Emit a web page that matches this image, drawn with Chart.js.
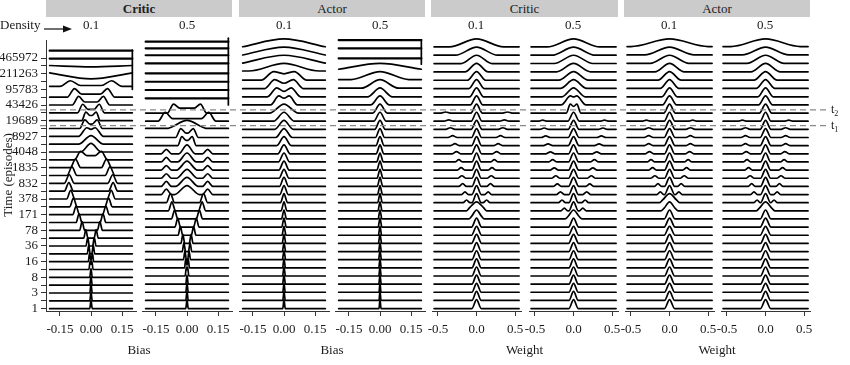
<!DOCTYPE html>
<html>
<head>
<meta charset="utf-8">
<script src="https://cdn.jsdelivr.net/npm/chart.js@4.4.1/dist/chart.umd.min.js"></script>
<style>
  body { margin: 0; background: #fff; }
  #wrap { position: relative; width: 850px; height: 365px; overflow: hidden;
          font-family: 'Liberation Serif', 'DejaVu Serif', serif; color: #1a1a1a; }
  #wrap canvas { position: absolute; }
  .strip { position: absolute; top: 0; height: 17px; background: #cbcbcb; text-align: center;
           font-size: 13px; line-height: 17px; color: #222; }
  .sub { position: absolute; top: 17px; width: 90px; text-align: center; font-size: 13px; line-height: 15px; }
  .xtitle { position: absolute; top: 342px; width: 120px; text-align: center; font-size: 13px; }
  .tlab { position: absolute; left: 831px; font-size: 12px; line-height: 12px; }
  .tlab sub { font-size: 8px; }
</style>
</head>
<body>
<div id="wrap"></div>
<script>
// y rows: one ridge per row, labels on every other row
const timeTicks = [1, 3, 8, 16, 36, 78, 171, 378, 832, 1835, 4048, 8927, 19689, 43426, 95783, 211263, 465972];
const biasTicks = [-0.15, 0, 0.15];
const weightTicks = [-0.5, 0, 0.5];
const groups = ['Critic', 'Actor', 'Critic', 'Actor'];
const densities = ['0.1', '0.5'];
const dashRows = { t1: 22.45, t2: 24.4 };

// row shapes, key points (x in data units, height 0..1 of the row max)
const P = (w, b = 0) => ({ pts: [[-w, b], [0, 1], [w, b]], b });
const T = (c, w, v = 0, b = 0) => (c - w > 0.0005
  ? { pts: [[-c - w, b], [-c, 1], [-c + w, v], [c - w, v], [c, 1], [c + w, b]], b }
  : { pts: [[-c - w, b], [-c, 1], [0, v], [c, 1], [c + w, b]], b });
const S = (wc, c, ws, hs) => (c - ws > wc
  ? { pts: [[-c - ws, 0], [-c, hs], [-c + ws, 0], [-wc, 0], [0, 1], [wc, 0], [c - ws, 0], [c, hs], [c + ws, 0]], b: 0 }
  : { pts: [[-c - ws, 0], [-c, hs], [0, 1], [c, hs], [c + ws, 0]], b: 0 });
const N = (l) => ({ pts: [], b: l, noisy: true });
const U = (v, e = 1) => ({ pts: [[0, v]], b: e });

const criticBias01 = [
  P(.006), P(.006), P(.006), P(.006), P(.006),
  T(.004, .006, .6), T(.007, .006, .2), T(.011, .007), T(.016, .008), T(.025, .01),
  T(.043, .012), T(.058, .014), T(.072, .016), T(.085, .018), T(.098, .02),
  T(.107, .022), T(.105, .024), T(.092, .024), T(.075, .025), T(.05, .03, .5),
  P(.05), P(.06), T(.02, .04, .8), T(.03, .025, .5), T(.025, .02, .6),
  T(.04, .025, .4), T(.06, .03, .35), T(.08, .035, .35), T(.1, .05, .45, .35), U(.3),
  U(.8, .95), N(.85), N(.85)
];
const criticBias05 = [
  P(.006), P(.006), P(.006), P(.006), T(.003, .006, .7),
  T(.006, .006, .3), T(.01, .007), T(.015, .008), T(.02, .009), T(.032, .011),
  T(.045, .013), T(.06, .015), T(.073, .017), T(.08, .02), S(.06, .1, .025, .6),
  S(.055, .1, .025, .55), S(.05, .1, .025, .5), S(.05, .1, .025, .5), S(.045, .1, .025, .5), S(.04, .1, .025, .5),
  T(.025, .02, .6), T(.03, .025, .5), P(.1, .1), T(.105, .035, .3), T(.065, .03, .55),
  N(.74), N(.76), N(.77), N(.8), N(1.0),
  N(1.0), N(.86), N(.7)
];
const actorBias01 = [
  P(.006), P(.006), P(.006), P(.007), P(.007),
  P(.007), P(.008), P(.008), P(.009), P(.01),
  P(.011), P(.012), P(.014), P(.017), P(.02),
  P(.022), P(.024), P(.025), P(.027), P(.03),
  P(.035), P(.04), P(.045), P(.05), P(.07),
  T(.025, .04, .75), T(.035, .045, .6), T(.045, .05, .6), T(.05, .06, .75, .05), P(.17, .15),
  P(.2, .13), P(.2, .12), P(.2, .13)
];
const actorBias05 = [
  P(.005), P(.005), P(.005), P(.006), P(.006),
  P(.006), P(.007), P(.007), P(.008), P(.008),
  P(.009), P(.009), P(.01), P(.011), P(.012),
  P(.013), P(.014), P(.015), P(.016), P(.018),
  P(.02), P(.022), P(.025), P(.03), P(.035),
  P(.045), P(.06), P(.09, .05), P(.14, .1), P(.2, .35),
  N(.65), N(.86), N(.88)
];
const criticWeight01 = [
  P(.06), P(.06), P(.06), P(.06), P(.06),
  P(.06), P(.06), P(.06), P(.065), P(.065),
  P(.065), S(.06, .06, .04, .35), S(.06, .09, .04, .35), S(.06, .13, .045, .3), S(.06, .15, .045, .3),
  S(.06, .18, .05, .3), S(.06, .19, .05, .28), S(.06, .2, .05, .28), S(.06, .23, .05, .25), S(.065, .26, .055, .25),
  S(.065, .28, .055, .22), S(.065, .31, .06, .2), S(.07, .34, .06, .18), S(.07, .36, .06, .15), S(.075, .4, .06, .12),
  P(.08), P(.09), P(.1), P(.12, .03), P(.15, .05),
  P(.2, .07), P(.27, .1), P(.35, .12)
];
const criticWeight05 = [
  P(.06), P(.06), P(.06), P(.06), P(.06),
  P(.06), P(.06), P(.06), P(.065), P(.065),
  P(.065), S(.06, .07, .04, .3), S(.06, .12, .045, .3), S(.06, .15, .045, .3), S(.06, .17, .05, .3),
  S(.065, .21, .05, .28), S(.065, .23, .05, .28), S(.065, .25, .055, .25), S(.065, .27, .055, .25), S(.065, .3, .055, .22),
  S(.07, .33, .06, .2), S(.07, .36, .06, .18), S(.07, .38, .06, .15), S(.075, .4, .06, .12), T(.043, .05, .75),
  T(.04, .12, .9), P(.15), P(.17, .03), P(.19, .05), P(.22, .06),
  P(.25, .08), P(.28, .1), P(.34, .12)
];
const actorWeight01 = [
  P(.065), P(.065), P(.065), P(.065), P(.065),
  P(.065), P(.065), P(.065), P(.065), P(.07),
  P(.07), P(.07), S(.065, .07, .04, .3), S(.065, .09, .04, .3), S(.065, .12, .045, .3),
  S(.065, .15, .045, .3), S(.065, .19, .05, .28), S(.065, .22, .05, .28), S(.065, .24, .05, .25), S(.065, .26, .055, .25),
  S(.07, .27, .055, .22), S(.07, .27, .06, .2), S(.07, .27, .06, .18), S(.07, .3, .06, .12), P(.075),
  P(.09), P(.1), P(.12, .02), P(.15, .04), P(.19, .06),
  P(.25, .1), P(.32, .13), P(.5, .15)
];
const actorWeight05 = [
  P(.065), P(.065), P(.065), P(.065), P(.065),
  P(.065), P(.065), P(.065), P(.065), P(.07),
  P(.07), P(.07), S(.065, .08, .04, .3), S(.065, .11, .04, .3), S(.065, .15, .045, .3),
  S(.065, .18, .045, .3), S(.065, .2, .05, .28), S(.065, .22, .05, .28), S(.065, .24, .05, .25), S(.065, .25, .055, .25),
  S(.07, .26, .055, .22), S(.07, .26, .06, .2), S(.07, .26, .06, .18), S(.07, .3, .06, .12), P(.08),
  P(.09), P(.1), P(.12, .02), P(.15, .04), P(.19, .06),
  P(.24, .1), P(.3, .13), P(.45, .15)
];

// rows whose ridge climbs at the right edge: [lowest row, top of the rise]
const panels = [
  { rows: criticBias01, kind: 'bias', edge: [28, 33.0] },
  { rows: criticBias05, kind: 'bias', edge: [25, 33.2] },
  { rows: actorBias01, kind: 'bias' },
  { rows: actorBias05, kind: 'bias', edge: [30, 33.0] },
  { rows: criticWeight01, kind: 'weight' },
  { rows: criticWeight05, kind: 'weight' },
  { rows: actorWeight01, kind: 'weight' },
  { rows: actorWeight05, kind: 'weight' }
];

const SCALE = 1.1;          // row-heights for the tallest point of a ridge
const Y_MIN = -0.3, Y_MAX = 34.2;
const TOP = 30, H = 335, XAXIS_H = 54;
const PANEL_W = 90;
const panelLeft = i => Math.round(46 + i * 96.3);
const font = { family: "'Liberation Serif', 'DejaVu Serif', serif", size: 13 };
const ink = '#1a1a1a';

const wrap = document.getElementById('wrap');

function addCanvas(left, width) {
  const c = document.createElement('canvas');
  c.width = width; c.height = H;
  c.style.left = left + 'px'; c.style.top = TOP + 'px';
  wrap.appendChild(c);
  return c;
}

function ridgeData(spec, r, lo, hi) {
  const pts = [[lo, spec.b], ...spec.pts.filter(p => p[0] > lo && p[0] < hi), [hi, spec.b]];
  return pts.map(([x, h]) => ({ x, y: r + h * SCALE }));
}

panels.forEach((p, i) => {
  const bias = p.kind === 'bias';
  const lo = bias ? -0.2 : -0.55, hi = -lo;
  const half = bias ? 0.2177 : 0.575;
  const first = i === 0;
  const left = first ? 0 : panelLeft(i) - 10;
  const width = first ? panelLeft(0) + PANEL_W + 10 : PANEL_W + 20;

  const datasets = p.rows.map((spec, r) => ({
    data: ridgeData(spec, r, lo, hi),
    borderWidth: spec.noisy ? 2.2 : 1.7
  }));
  if (p.edge) {
    datasets.push({ data: [{ x: hi, y: p.edge[0] }, { x: hi, y: p.edge[1] }], tension: 0, cubicInterpolationMode: 'default', borderWidth: 1.7 });
  }

  new Chart(addCanvas(left, width), {
    type: 'line',
    data: { datasets },
    options: {
      responsive: false,
      animation: false,
      layout: { padding: { left: first ? 0 : 10, right: 10, top: 0, bottom: 0 } },
      plugins: { legend: { display: false }, tooltip: { enabled: false } },
      elements: {
        point: { radius: 0 },
        line: { borderColor: '#000', cubicInterpolationMode: 'monotone', fill: false, borderCapStyle: 'round', borderJoinStyle: 'round' }
      },
      scales: {
        x: {
          type: 'linear', min: -half, max: half,
          afterBuildTicks: s => { s.ticks = (bias ? biasTicks : weightTicks).map(v => ({ value: v })); },
          afterFit: s => { s.height = XAXIS_H; },
          ticks: { font, color: ink, padding: 6, maxRotation: 0, autoSkip: false,
                   callback: v => v.toFixed(bias ? 2 : 1) },
          grid: { drawOnChartArea: false, drawTicks: true, tickLength: 5, color: '#333', lineWidth: 1 },
          border: { display: true, color: '#333', width: 1 }
        },
        y: {
          type: 'linear', min: Y_MIN, max: Y_MAX, display: first,
          afterBuildTicks: s => { s.ticks = Array.from({ length: 33 }, (_, k) => ({ value: k })); },
          afterFit: s => { s.width = first ? 46 : 0; },
          ticks: { font, color: ink, padding: 3, autoSkip: false,
                   callback: v => (v % 2 === 0 ? String(timeTicks[v / 2]) : '') },
          grid: { drawOnChartArea: false, drawTicks: true, tickLength: 5, color: '#333', lineWidth: 1 },
          border: { display: true, color: '#333', width: 1 }
        }
      }
    }
  });
});

// dashed reference lines across all panels
new Chart(addCanvas(0, 850), {
  type: 'line',
  data: {
    datasets: Object.values(dashRows).map(v => ({
      data: [{ x: 40, y: v }, { x: 828, y: v }],
      borderColor: '#8a8a8a', borderWidth: 1.3, borderDash: [6, 4], pointRadius: 0
    }))
  },
  options: {
    responsive: false, animation: false,
    layout: { padding: { left: 0, right: 0, top: 0, bottom: XAXIS_H } },
    plugins: { legend: { display: false }, tooltip: { enabled: false } },
    scales: {
      x: { type: 'linear', min: 0, max: 850, display: false },
      y: { type: 'linear', min: Y_MIN, max: Y_MAX, display: false }
    }
  }
});

// strips, density labels, axis titles
function addDiv(cls, html, css) {
  const d = document.createElement('div');
  d.className = cls; d.innerHTML = html;
  Object.assign(d.style, css);
  wrap.appendChild(d);
  return d;
}
groups.forEach((g, k) => {
  const l = panelLeft(2 * k), r = panelLeft(2 * k + 1) + PANEL_W;
  addDiv('strip', g, { left: l + 'px', width: (r - l) + 'px', fontWeight: k === 0 ? 'bold' : 'normal' });
  addDiv('xtitle', k < 2 ? 'Bias' : 'Weight', { left: ((l + r) / 2 - 60) + 'px' });
});
panels.forEach((p, i) => {
  addDiv('sub', densities[i % 2], { left: panelLeft(i) + 'px' });
});
addDiv('sub', 'Density', { left: '0px', width: '44px', textAlign: 'left' });
addDiv('', '<svg width="30" height="10"><line x1="0" y1="5" x2="22" y2="5" stroke="#111" stroke-width="1.2"/><path d="M19 1.5 L28 5 L19 8.5 Z" fill="#111"/></svg>',
  { position: 'absolute', left: '44px', top: '20px' });
addDiv('', 'Time (episodes)', { position: 'absolute', left: '-52px', top: '167px', width: '120px', textAlign: 'center',
  fontSize: '13px', transform: 'rotate(-90deg)' });
addDiv('tlab', 't<sub>2</sub>', { top: '103px' });
addDiv('tlab', 't<sub>1</sub>', { top: '119px' });
</script>
</body>
</html>
